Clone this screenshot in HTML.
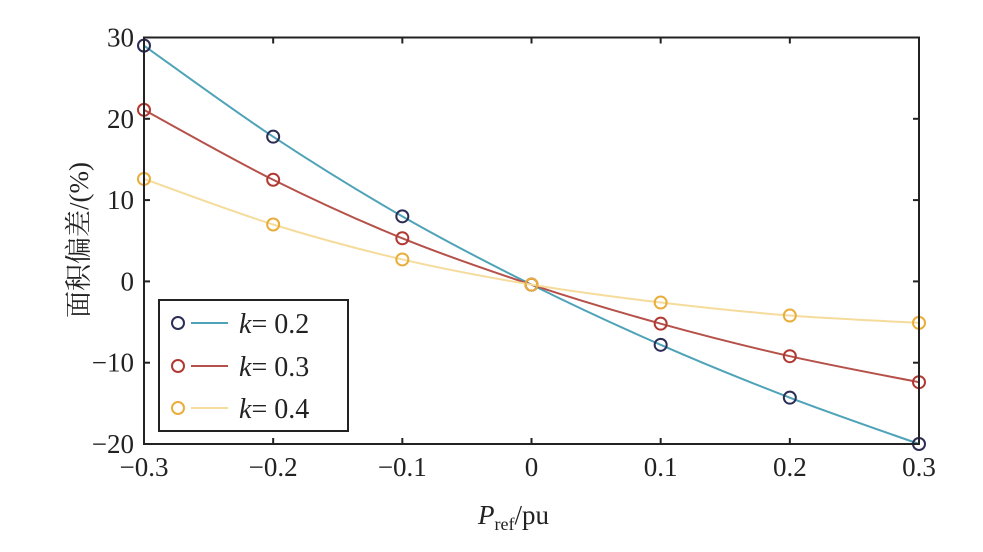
<!DOCTYPE html>
<html><head><meta charset="utf-8"><style>
body{margin:0;background:#fff}
svg text{font-family:"Liberation Serif","Noto Serif CJK SC",serif;fill:#222}
</style></head><body>
<svg id="s" width="983" height="547" xmlns="http://www.w3.org/2000/svg">
<rect width="983" height="547" fill="#fff"/>
</svg>
<script>
const s=document.getElementById('s');
const L=144,R=919,T=37.5,B=444;
const X=x=>L+(x+0.3)/0.6*(R-L), Y=y=>T+(30-y)/50*(B-T);
let h='';
const xs=[-0.3,-0.2,-0.1,0,0.1,0.2,0.3];
const ser=[
 {c:'#2b2d55',l:'#4fa3b8',d:[29,17.8,8,-0.4,-7.8,-14.3,-20]},
 {c:'#b03a33',l:'#b6514a',d:[21.1,12.5,5.3,-0.4,-5.2,-9.2,-12.4]},
 {c:'#e9ad3a',l:'#f5dc9c',d:[12.6,7,2.7,-0.4,-2.6,-4.2,-5.1]}];
ser.forEach(S=>{
 const p=xs.map((x,i)=>[X(x),Y(S.d[i])]);
 let d='M'+p[0].join(',');
 for(let i=0;i<p.length-1;i++){
  const p0=p[Math.max(0,i-1)],p1=p[i],p2=p[i+1],p3=p[Math.min(p.length-1,i+2)];
  const c1=[p1[0]+(p2[0]-p0[0])/6,p1[1]+(p2[1]-p0[1])/6];
  const c2=[p2[0]-(p3[0]-p1[0])/6,p2[1]-(p3[1]-p1[1])/6];
  d+=`C${c1} ${c2} ${p2}`;
 }
 h+=`<path d="${d}" fill="none" stroke="${S.l}" stroke-width="2"/>`;
 p.forEach(q=>h+=`<circle cx="${q[0]}" cy="${q[1]}" r="6" fill="none" stroke="${S.c}" stroke-width="2"/>`);
});
h+=`<rect x="${L}" y="${T}" width="${R-L}" height="${B-T}" fill="none" stroke="#222" stroke-width="2"/>`;
xs.forEach(x=>{const px=X(x);h+=`<line x1="${px}" y1="${B}" x2="${px}" y2="${B-6}" stroke="#222" stroke-width="2"/><line x1="${px}" y1="${T}" x2="${px}" y2="${T+6}" stroke="#222" stroke-width="2"/>`;
 h+=`<text x="${px}" y="476" font-size="27" text-anchor="middle">${x<0?'−'+(-x).toFixed(1):(x==0?'0':x.toFixed(1))}</text>`;});
[30,20,10,0,-10,-20].forEach(y=>{const py=Y(y);h+=`<line x1="${L}" y1="${py}" x2="${L+6}" y2="${py}" stroke="#222" stroke-width="2"/><line x1="${R}" y1="${py}" x2="${R-6}" y2="${py}" stroke="#222" stroke-width="2"/>`;
 h+=`<text x="134" y="${py+9}" font-size="27" text-anchor="end">${y<0?'−'+(-y):y}</text>`;});
h+=`<rect x="159" y="300" width="189" height="131" fill="#fff" stroke="#222" stroke-width="2"/>`;
[[323,0,'0.2'],[366,1,'0.3'],[408,2,'0.4']].forEach(([y,i,t])=>{
 h+=`<circle cx="178" cy="${y}" r="6" fill="none" stroke="${ser[i].c}" stroke-width="2"/><line x1="191" y1="${y}" x2="228" y2="${y}" stroke="${ser[i].l}" stroke-width="2"/>`;
 h+=`<text x="239" y="${y+10}" font-size="28"><tspan font-style="italic">k</tspan>= ${t}</text>`;});
h+=`<text x="478" y="524" font-size="27"><tspan font-style="italic">P</tspan><tspan font-size="18" dy="6">ref</tspan><tspan dy="-6">/pu</tspan></text>`;
h+=`<text transform="translate(88,240) rotate(-90)" font-size="27" text-anchor="middle">面积偏差/(%)</text>`;
s.innerHTML+=h;
</script>
</body></html>
